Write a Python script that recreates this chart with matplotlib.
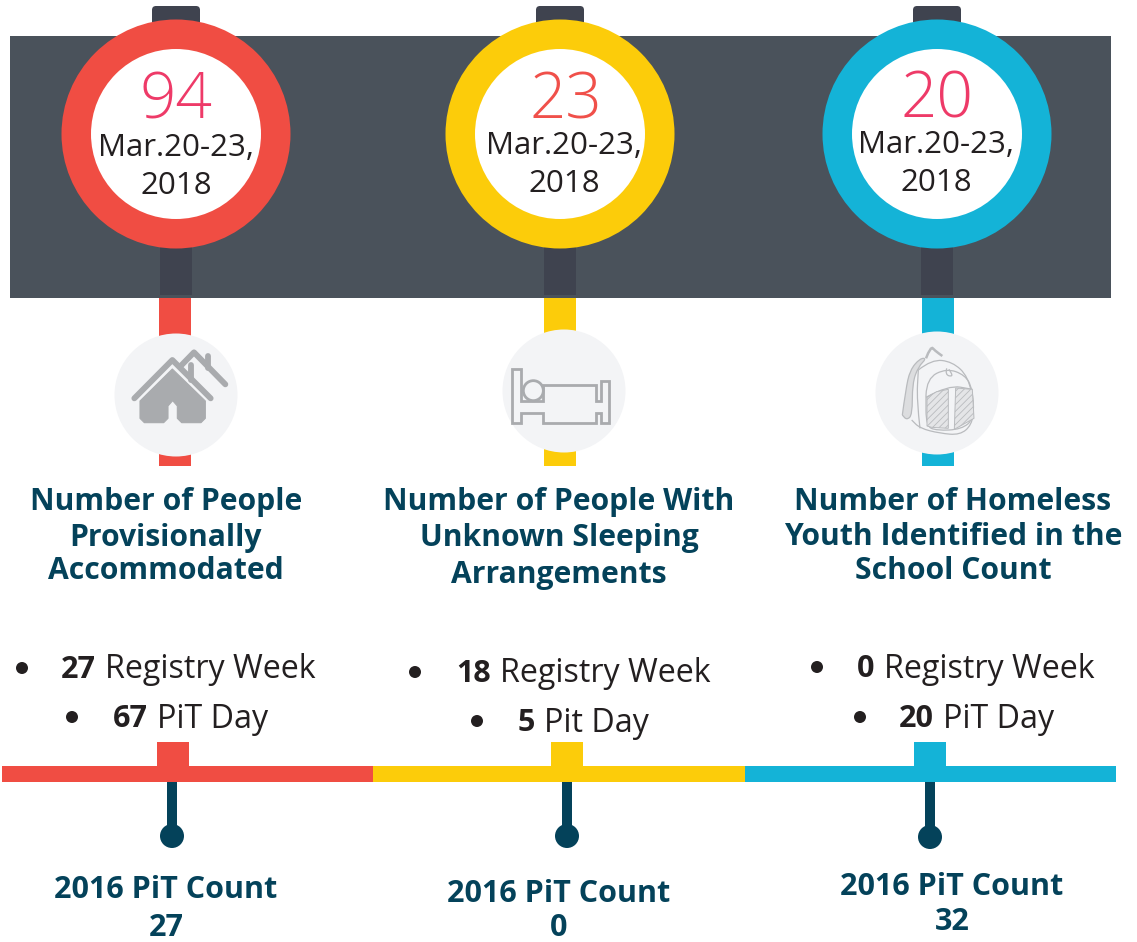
import matplotlib
matplotlib.use("Agg")
from matplotlib import pyplot as plt
from matplotlib.patches import Circle, FancyBboxPatch, PathPatch, Polygon, Rectangle
from matplotlib.path import Path

W, H = 1137, 942

totals = ["94", "23", "20"]
total_colors = ["#ee3a68", "#f0504a", "#ee3a68"]
dates = ["Mar.20-23,\n2018"] * 3
titles = [
    ["Number of People", "Provisionally", "Accommodated"],
    ["Number of People With", "Unknown Sleeping", "Arrangements"],
    ["Number of Homeless", "Youth Identified in the", "School Count"],
]
registry_week = [27, 18, 0]
pit_day = [67, 5, 20]
pit_day_labels = ["PiT Day", "Pit Day", "PiT Day"]
count_2016 = [27, 0, 32]

RED, YELLOW, BLUE = "#f04d43", "#fccc0a", "#14b3d7"
colors = [RED, YELLOW, BLUE]
DARK, STEM = "#4a525b", "#3f434f"
NAVY, TEXT = "#04425a", "#231f20"
ICON_BG, ICON = "#f3f4f6", "#a9abae"

circle_x = [176, 560, 937]
total_x = [176, 566, 937]
date_x = [176, 564, 936]
dark_stem_x = [176, 560, 937]
color_stem_x = [175, 560, 938]
icon_xy = [(176, 395), (564, 391), (937, 393)]
date_y = [167, 165, 164]
total_y = [102, 102, 101]
title_x = [166, 559, 953]
title_y = [[502, 538, 571], [502, 538, 575], [502, 537, 571]]
bullet1 = [(22, 668), (415, 672), (817, 667)]
bullet2 = [(72, 717), (477, 721), (860, 717)]
text1_x = [61, 456, 857]
text2_x = [113, 518, 899]
bump_x = [173, 567, 930]
pin_x = [172, 567, 930]
pin_y = [836, 836, 837]
bar_edges = [2, 373, 745, 1116]
count_x = [166, 559, 952]
count_base = [[898, 936], [902, 936], [895, 930]]

fig = plt.figure(figsize=(W / 100, H / 100), dpi=100)
ax = fig.add_axes([0, 0, 1, 1])
ax.set_xlim(0, W)
ax.set_ylim(H, 0)
ax.axis("off")
plt.rcParams["font.family"] = "Open Sans"
plt.rcParams["hatch.color"] = "#c2c4c6"
plt.rcParams["hatch.linewidth"] = 0.6


def rect(x0, y0, x1, y1, color, z=1):
    ax.add_patch(Rectangle((x0, y0), x1 - x0, y1 - y0, fc=color, ec="none", zorder=z))


def bold_then_plain(x, y, number, label):
    t = ax.text(x, y + 2, str(number), fontsize=22, fontweight="bold", color=TEXT,
                va="center", ha="left", zorder=6)
    fig.canvas.draw()
    box = t.get_window_extent().transformed(ax.transData.inverted())
    ax.text(box.x1 + 9, y + 2, label, fontsize=23.2, color=TEXT, va="center", ha="left", zorder=6)


def draw_house(cx, cy):
    def px(x, y):
        return (100 + x / 3 + cx - 176, 320 + y / 3 + cy - 395)
    style = dict(color=ICON, lw=4.2, solid_capstyle="round", solid_joinstyle="round", zorder=5)
    for pts in ([(103, 235), (217, 120), (332, 235)],
                [(245, 135), (282, 97), (376, 193)],
                [(272, 135), (272, 180)],
                [(325, 108), (325, 145)]):
        ax.plot(*zip(*[px(*p) for p in pts]), **style)
    body = [(217, 147), (316, 243), (316, 295), (303, 308), (245, 308), (232, 295),
            (232, 258), (218, 242), (204, 258), (204, 295), (191, 308), (133, 308),
            (120, 295), (120, 243)]
    ax.add_patch(Polygon([px(*p) for p in body], closed=True, fc=ICON, ec=ICON,
                         lw=0.8, joinstyle="round", zorder=5))


def draw_bed(cx, cy):
    def px(x, y):
        return (490 + x / 3 + cx - 564, 320 + y / 3 + cy - 391)
    outline = [(66, 148), (94, 148), (94, 242), (160, 242), (160, 196), (318, 196),
               (318, 242), (332, 242), (332, 184), (357, 184), (357, 310), (332, 310),
               (332, 278), (318, 278), (318, 310), (160, 310), (160, 278), (94, 278),
               (94, 310), (66, 310)]
    ax.add_patch(Polygon([px(*p) for p in outline], closed=True, fc="none", ec=ICON,
                         lw=2, zorder=5))
    ax.add_patch(Circle(px(130, 212), 10, fc=ICON_BG, ec=ICON, lw=2, zorder=5))


def draw_backpack(cx, cy):
    def px(x, y):
        return (865 + x / 3 + cx - 937, 320 + y / 3 + cy - 393)
    line = "#b9bbbe"

    def curve(pts, lw=0.9, fc="none"):
        # midpoints of the control polygon keep the sketch smooth
        verts = [px(*pts[0])]
        codes = [Path.MOVETO]
        for a, b in zip(pts[1:-1], pts[2:]):
            verts += [px(*a), px((a[0] + b[0]) / 2, (a[1] + b[1]) / 2)]
            codes += [Path.CURVE3, Path.CURVE3]
        verts.append(px(*pts[-1]))
        codes.append(Path.LINETO)
        ax.add_patch(PathPatch(Path(verts, codes), fc=fc, ec=line, lw=lw, zorder=5))

    curve([(112, 285), (122, 210), (135, 150), (165, 115), (185, 115), (160, 140), (142, 190),
           (142, 285), (125, 300), (112, 285)], fc="#dcdddf")
    curve([(183, 115), (197, 78), (210, 92), (232, 108)], lw=1.8)
    curve([(160, 150), (200, 118), (262, 125), (310, 170), (328, 260), (320, 315), (285, 345),
           (225, 340), (165, 325), (140, 300)])
    curve([(165, 325), (155, 240), (160, 150)])
    curve([(183, 225), (185, 175), (245, 145), (300, 165), (322, 205), (328, 295), (290, 328),
           (215, 332), (183, 318), (183, 225)])
    curve([(183, 232), (250, 195), (322, 208)])
    curve([(245, 145), (240, 165), (265, 170), (252, 148)])
    for poly in ([(186, 232), (215, 215), (250, 208), (250, 325), (200, 322), (186, 318)],
                 [(272, 204), (322, 208), (327, 295), (268, 328)]):
        ax.add_patch(Polygon([px(*p) for p in poly], closed=True, fc="#e4e5e7",
                             ec=line, lw=0.7, hatch="/////", zorder=5))


icon_drawers = [draw_house, draw_bed, draw_backpack]

rect(10, 36, 1111, 298, DARK, 1)
for i in range(3):
    c = colors[i]
    ax.add_patch(FancyBboxPatch((circle_x[i] - 24, 6), 48, 34, boxstyle="round,pad=0,rounding_size=4",
                                fc=STEM, ec="none", zorder=2))
    rect(dark_stem_x[i] - 16, 200, dark_stem_x[i] + 16, 295, STEM, 2)
    rect(color_stem_x[i] - 16, 298, color_stem_x[i] + 16, 466, c, 2)
    ax.add_patch(Circle((circle_x[i], 134), 114.5, fc=c, ec="none", zorder=3))
    ax.add_patch(Circle((circle_x[i], 134), 85, fc="white", ec="none", zorder=4))
    ax.text(total_x[i], total_y[i], totals[i], fontsize=46, fontweight="light",
            color=total_colors[i], ha="center", va="center", zorder=6)
    ax.text(date_x[i], date_y[i], dates[i], fontsize=22.5, color=TEXT, ha="center", va="center",
            linespacing=1.34, zorder=6)

    ax.add_patch(Circle(icon_xy[i], 61.5, fc=ICON_BG, ec="none", zorder=4))
    icon_drawers[i](*icon_xy[i])

    for txt, y in zip(titles[i], title_y[i]):
        ax.text(title_x[i], y, txt, fontsize=21.7, fontweight="bold", color=NAVY,
                ha="center", va="center", zorder=6)

    ax.add_patch(Circle(bullet1[i], 6, fc=TEXT, ec="none", zorder=6))
    ax.add_patch(Circle(bullet2[i], 6, fc=TEXT, ec="none", zorder=6))
    bold_then_plain(text1_x[i], bullet1[i][1], registry_week[i], "Registry Week")
    bold_then_plain(text2_x[i], bullet2[i][1], pit_day[i], pit_day_labels[i])

    rect(bar_edges[i], 766, bar_edges[i + 1], 782, c, 2)
    rect(bump_x[i] - 16, 742, bump_x[i] + 16, 767, c, 2)
    rect(pin_x[i] - 5, 782, pin_x[i] + 5, 832, NAVY, 2)
    ax.add_patch(Circle((pin_x[i], pin_y[i]), 12, fc=NAVY, ec="none", zorder=3))

    ax.text(count_x[i], count_base[i][0], "2016 PiT Count", fontsize=22, fontweight="bold", color=NAVY,
            ha="center", va="baseline", zorder=6)
    ax.text(count_x[i], count_base[i][1], str(count_2016[i]), fontsize=22, fontweight="bold", color=NAVY,
            ha="center", va="baseline", zorder=6)

fig.savefig("out.png", dpi=100)
